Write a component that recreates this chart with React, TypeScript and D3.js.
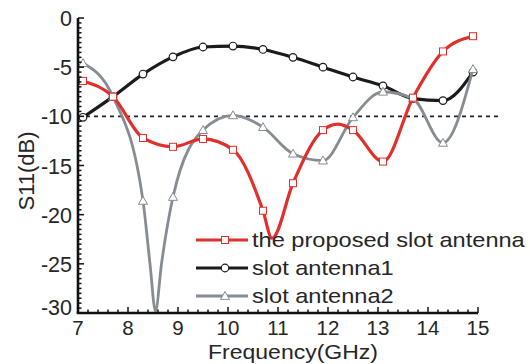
import React from 'react';
import * as d3 from 'd3';

// marker positions (GHz)
const markerFreqs = [ 7.1, 7.7, 8.3, 8.9, 9.5, 10.1, 10.7, 11.3, 11.9, 12.5, 13.1, 13.7, 14.3, 14.9 ];

const proposedFreq = [ 7.1, 7.7, 8.3, 8.9, 9.5, 10.1, 10.7, 10.88, 11.3, 11.9, 12.2, 12.5, 13.1, 13.7, 14.3, 14.9 ];
const proposedS11 = [ -6.4, -8.0, -12.2, -13.1, -12.3, -13.4, -19.6, -22.4, -16.8, -11.4, -10.8, -11.4, -14.6, -8.1, -3.4, -1.85 ];

const slot1Freq = [ 7.1, 7.7, 8.3, 8.9, 9.5, 10.1, 10.7, 11.3, 11.9, 12.5, 13.1, 13.7, 14.3, 14.9 ];
const slot1S11 = [ -10.1, -8.0, -5.7, -3.95, -2.95, -2.85, -3.2, -4.0, -5.0, -6.0, -6.9, -8.2, -8.4, -5.5 ];

const slot2Freq = [ 7.1, 7.7, 8.3, 8.44, 8.55, 8.67, 8.9, 9.5, 10.1, 10.7, 11.3, 11.9, 12.5, 13.1, 13.7, 14.3, 14.9 ];
const slot2S11 = [ -4.6, -8.0, -18.6, -25, -29.8, -25, -18.2, -11.4, -9.9, -11.1, -13.8, -14.5, -10.1, -7.5, -8.2, -12.7, -5.2 ];

const xTicks = [ 7, 8, 9, 10, 11, 12, 13, 14, 15 ];
const yTicks = [ 0, -5, -10, -15, -20, -25, -30 ];
const threshold = -10;

const legendNames = [ 'the proposed slot antenna', 'slot antenna1', 'slot antenna2' ];

const W = 530;
const H = 364;
const FONT = '"Liberation Sans", Arial, sans-serif';
const TEXT = '#262626';

type Shape = 'square' | 'circle' | 'triangle';

function Marker( { x, y, shape, color }: { x: number; y: number; shape: Shape; color: string } ) {
  if ( shape === 'square' ) {
    return <rect x={ x - 3.5 } y={ y - 3.5 } width={ 7 } height={ 7 } fill="#fff" stroke={ color } strokeWidth={ 1 } />;
  }
  if ( shape === 'circle' ) {
    return <circle cx={ x } cy={ y } r={ 3.8 } fill="#fff" stroke={ color } strokeWidth={ 1.2 } />;
  }
  const s = 4.5;
  return (
    <path
      d={ `M${ x },${ y - s }L${ x + s },${ y + s * 0.75 }L${ x - s },${ y + s * 0.75 }Z` }
      fill="#fff"
      stroke={ color }
      strokeWidth={ 1 }
    />
  );
}

export default function App() {
  const x = d3.scaleLinear().domain( [ 7, 15 ] ).range( [ 78, 478 ] );
  const y = d3.scaleLinear().domain( [ 0, -30 ] ).range( [ 18, 313 ] );

  const line = d3.line<[ number, number ]>()
    .x( d => x( d[ 0 ] ) )
    .y( d => y( d[ 1 ] ) )
    .curve( d3.curveMonotoneX );

  const series = [
    { name: legendNames[ 1 ], f: slot1Freq, v: slot1S11, color: '#1b1b1b', width: 3.2, shape: 'circle' as Shape },
    { name: legendNames[ 2 ], f: slot2Freq, v: slot2S11, color: '#868c92', width: 2.8, shape: 'triangle' as Shape },
    { name: legendNames[ 0 ], f: proposedFreq, v: proposedS11, color: '#e0302c', width: 3.2, shape: 'square' as Shape },
  ];

  const yMinor = d3.range( 0, -30.01, -0.5 );
  const xMinor = d3.range( 7, 15.01, 0.2 );

  const legend = [
    { name: legendNames[ 0 ], color: '#e0302c', shape: 'square' as Shape, width: 3.2 },
    { name: legendNames[ 1 ], color: '#1b1b1b', shape: 'circle' as Shape, width: 3.2 },
    { name: legendNames[ 2 ], color: '#868c92', shape: 'triangle' as Shape, width: 2.8 },
  ];

  return (
    <svg width={ W } height={ H } style={ { position: 'absolute', left: 0, top: 0, background: '#fff' } } fontFamily={ FONT }>
      {/* threshold line */}
      <line x1={ x( 7 ) } x2={ 500 } y1={ y( threshold ) } y2={ y( threshold ) } stroke="#1d2233" strokeWidth={ 1.6 } strokeDasharray="4,4" />

      {/* curves */}
      { series.map( s => {
        const pts = s.f.map( ( f, i ) => [ f, s.v[ i ] ] as [ number, number ] );
        return (
          <g key={ s.name }>
            <path d={ line( pts ) || '' } fill="none" stroke={ s.color } strokeWidth={ s.width } strokeLinejoin="round" />
            { pts.filter( p => markerFreqs.includes( p[ 0 ] ) ).map( ( p, i ) => (
              <Marker key={ i } x={ x( p[ 0 ] ) } y={ y( p[ 1 ] ) } shape={ s.shape } color={ s.color } />
            ) ) }
          </g>
        );
      } ) }

      {/* y axis */}
      <line x1={ x( 7 ) } x2={ x( 7 ) } y1={ y( 0 ) } y2={ y( -30 ) } stroke="#111" strokeWidth={ 2.6 } />
      { yMinor.map( v => (
        <line key={ 'ym' + v } x1={ x( 7 ) } x2={ x( 7 ) + ( v % 5 === 0 ? 6 : 3.5 ) } y1={ y( v ) } y2={ y( v ) } stroke="#111" strokeWidth={ 1.5 } />
      ) ) }
      { yTicks.map( v => (
        <text key={ 'yt' + v } x={ 72 } y={ y( v ) + ( v === -30 ? 2 : 8 ) } textAnchor="end" fontSize={ 21.5 } fill={ TEXT }>{ v }</text>
      ) ) }

      {/* x axis */}
      <line x1={ x( 7 ) - 1.3 } x2={ x( 15 ) } y1={ y( -30 ) } y2={ y( -30 ) } stroke="#111" strokeWidth={ 2.6 } />
      { xMinor.map( ( v, i ) => (
        <line key={ 'xm' + i } x1={ x( v ) } x2={ x( v ) } y1={ y( -30 ) } y2={ y( -30 ) - ( i % 5 === 0 ? 6 : 3.5 ) } stroke="#111" strokeWidth={ 1.5 } />
      ) ) }
      { xTicks.map( v => (
        <text key={ 'xt' + v } x={ x( v ) } y={ 335 } textAnchor="middle" fontSize={ 20.5 } fill={ TEXT }>{ v }</text>
      ) ) }

      {/* axis titles */}
      <text transform="translate(293,358.5) scale(1.18,1)" textAnchor="middle" fontSize={ 19.5 } fill={ TEXT }>Frequency(GHz)</text>
      <text transform={ `translate(34,${ 171 }) rotate(-90)` } textAnchor="middle" fontSize={ 22 } fill={ TEXT }>S11(dB)</text>

      {/* legend */}
      { legend.map( ( l, i ) => {
        const ly = 240 + i * 28;
        return (
          <g key={ l.name }>
            <line x1={ 196 } x2={ 248 } y1={ ly } y2={ ly } stroke={ l.color } strokeWidth={ l.width } />
            <Marker x={ 225 } y={ ly } shape={ l.shape } color={ l.color } />
            <text transform={ `translate(252,${ ly + 7 }) scale(1.18,1)` } fontSize={ 20 } fill={ TEXT }>{ l.name }</text>
          </g>
        );
      } ) }
    </svg>
  );
}
